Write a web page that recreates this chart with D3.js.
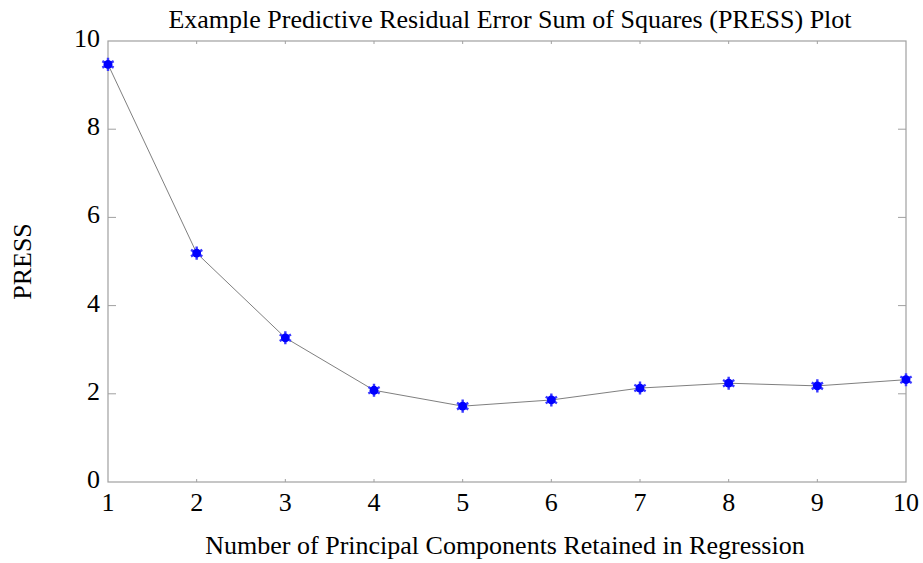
<!DOCTYPE html>
<html lang="en">
<head>
  <meta charset="UTF-8">
  <title>PRESS Plot</title>
  <script src="https://d3js.org/d3.v7.min.js"></script>
  <style>
    body { margin: 0; background: #fff; }
  </style>
</head>
<body>
<script>
const components = [1, 2, 3, 4, 5, 6, 7, 8, 9, 10];
const press = [9.47, 5.19, 3.27, 2.08, 1.72, 1.86, 2.13, 2.24, 2.18, 2.32];
const yTicks = [0, 2, 4, 6, 8, 10];

const width = 923, height = 563;
const margin = {top: 41, right: 17, bottom: 81, left: 108};
const serif = "'Liberation Serif', Tinos, 'Times New Roman', Times, 'DejaVu Serif', serif";

const svg = d3.select("body").append("svg")
  .attr("width", width)
  .attr("height", height)
  .style("font-family", serif);

const x = d3.scaleLinear().domain([1, 10]).range([margin.left, width - margin.right]);
const y = d3.scaleLinear().domain([0, 10]).range([height - margin.bottom, margin.top]);

// frame
svg.append("rect")
  .attr("x", x(1)).attr("y", y(10))
  .attr("width", x(10) - x(1)).attr("height", y(0) - y(10))
  .attr("fill", "none").attr("stroke", "#a0a0a0").attr("stroke-width", 1.2);

// inner ticks
const tickG = svg.append("g").attr("stroke", "#a0a0a0").attr("stroke-width", 1);
yTicks.slice(1, -1).forEach(t => {
  tickG.append("line").attr("x1", x(1)).attr("x2", x(1) + 8).attr("y1", y(t)).attr("y2", y(t));
  tickG.append("line").attr("x1", x(10)).attr("x2", x(10) - 8).attr("y1", y(t)).attr("y2", y(t));
});
components.slice(1, -1).forEach(t => {
  tickG.append("line").attr("x1", x(t)).attr("x2", x(t)).attr("y1", y(0)).attr("y2", y(0) - 3);
  tickG.append("line").attr("x1", x(t)).attr("x2", x(t)).attr("y1", y(10)).attr("y2", y(10) + 3);
});

// tick labels
svg.append("g").selectAll("text").data(components).join("text")
  .attr("x", d => x(d)).attr("y", y(0) + 29)
  .attr("text-anchor", "middle").attr("font-size", 26).attr("font-family", serif)
  .text(d => d);
svg.append("g").selectAll("text").data(yTicks).join("text")
  .attr("x", x(1) - 8).attr("y", d => y(d) + 6)
  .attr("text-anchor", "end").attr("font-size", 26).attr("font-family", serif)
  .text(d => d);

// line
svg.append("path")
  .datum(components.map((c, i) => [c, press[i]]))
  .attr("fill", "none").attr("stroke", "#707070").attr("stroke-width", 0.9)
  .attr("d", d3.line().x(d => x(d[0])).y(d => y(d[1])));

// markers
const mk = svg.append("g").selectAll("g").data(components).join("g")
  .attr("transform", (d, i) => `translate(${x(d)},${y(press[i])})`);
mk.append("path")
  .attr("d", d3.symbol(d3.symbolAsterisk, 120))
  .attr("stroke", "#3a3aff").attr("stroke-width", 2.4).attr("fill", "none");
mk.append("circle").attr("r", 4.4).attr("fill", "#0000ff");

// title and axis labels
svg.append("text")
  .attr("x", 510).attr("y", 28)
  .attr("text-anchor", "middle").attr("font-size", 26).attr("font-family", serif)
  .text("Example Predictive Residual Error Sum of Squares (PRESS) Plot");
svg.append("text")
  .attr("x", 505).attr("y", 554)
  .attr("text-anchor", "middle").attr("font-size", 26).attr("font-family", serif)
  .text("Number of Principal Components Retained in Regression");
svg.append("text")
  .attr("transform", `translate(31,${y(5)}) rotate(-90)`)
  .attr("text-anchor", "middle").attr("font-size", 26).attr("font-family", serif)
  .text("PRESS");
</script>
</body>
</html>
